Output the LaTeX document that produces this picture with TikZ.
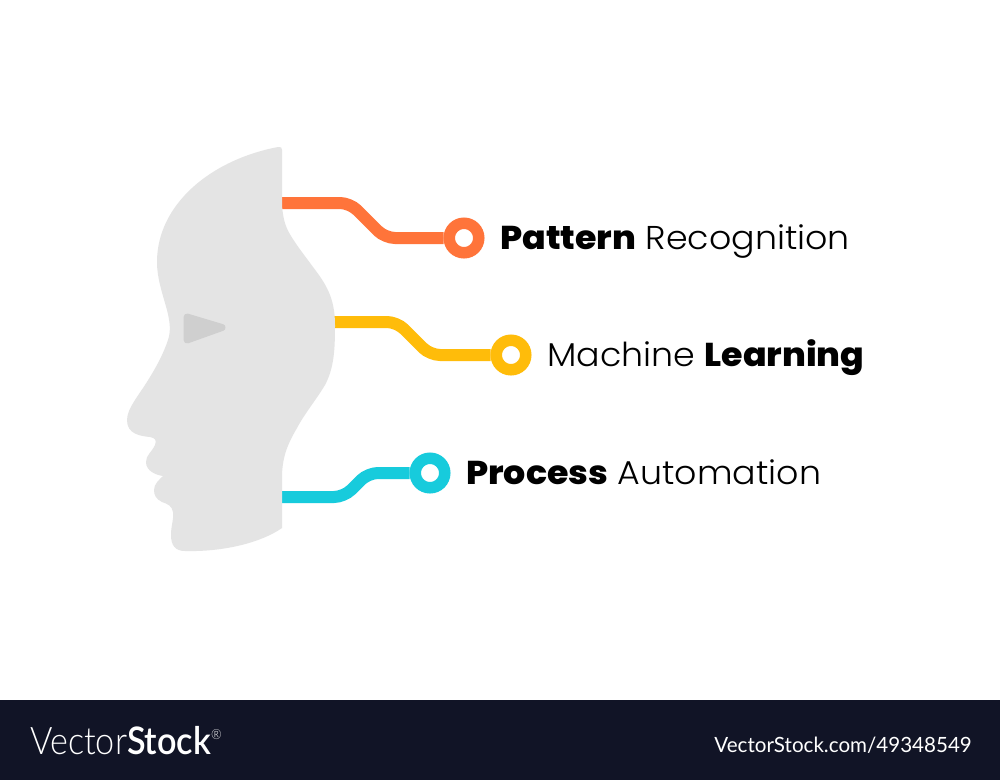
\documentclass[tikz,border=0pt]{standalone}
\usepackage{fontspec}
\setmainfont{Poppins}
\newfontfamily\lab[FakeStretch=1.055,UprightFont={Poppins Light},BoldFont={Poppins ExtraBold}]{Poppins}
\newfontfamily\foot[FakeStretch=0.9,UprightFont={* Light}]{Lato}
\newfontfamily\footb[FakeStretch=0.9]{Lato Semibold}
\newfontfamily\footr[FakeStretch=0.98]{Lato}
\definecolor{headc}{HTML}{E4E4E4}
\definecolor{eyec}{HTML}{CFCFCF}
\definecolor{orangec}{HTML}{FF743A}
\definecolor{yellowc}{HTML}{FFBC0A}
\definecolor{cyanc}{HTML}{17CBDC}
\definecolor{barc}{HTML}{111426}
\tikzset{
  wire/.style={line width=12pt,rounded corners=10pt},
  ringo/.style={circle,draw=#1,line width=11.5pt,fill=white,minimum size=29.5pt,inner sep=0pt},
  labeltext/.style={anchor=base west,inner sep=0pt,font=\lab\fontsize{33}{36}\selectfont,text=black},
  foottext/.style={anchor=base west,inner sep=0pt,text=white}
}
\begin{document}
\begin{tikzpicture}[x=1pt,y=-1pt]
\useasboundingbox (0,0) rectangle (1000,780);
\fill[white] (0,0) rectangle (1000,780);
\fill[barc] (0,700) rectangle (1000,780);
\coordinate (o1) at (282,203);
\coordinate (o2) at (333,322);
\coordinate (o3) at (282,497);
\node[ringo=orangec] (r1) at (464,238) {};
\node[ringo=yellowc] (r2) at (511,355) {};
\node[ringo=cyanc] (r3) at (430,473) {};
\draw[wire,orangec] (o1) -- (350,203) -- (385,238) -- (r1.west);
\draw[wire,yellowc] (o2) -- (397,322) -- (430,355) -- (r2.west);
\draw[wire,cyanc] (o3) -- (344,497) -- (368,473) -- (r3.west);
\fill[headc] (278,147) .. controls (281,146.5) and (282,147.5) .. (282,150)
 -- (282,205) .. controls (283,220) and (286,228) .. (291,236)
 .. controls (297,246) and (305,256) .. (313,267)
 .. controls (326,284) and (335,298) .. (335,325)
 .. controls (335,350) and (334,368) .. (325,385)
 .. controls (316,400) and (305,413) .. (297,428)
 .. controls (287,445) and (282,458) .. (282,478)
 -- (282,528) .. controls (262,542) and (225,552) .. (185,551)
 .. controls (175,551) and (171,545) .. (171,535)
 .. controls (171,525) and (174,520) .. (173,512)
 .. controls (172,506) and (168,504) .. (162,502)
 .. controls (156,499) and (154,495) .. (154,490)
 .. controls (154,484) and (159,480) .. (163,476)
 .. controls (156,475) and (146,471) .. (146,462)
 .. controls (146,455) and (152,452) .. (155,445)
 .. controls (157,440) and (155,438) .. (150,437)
 .. controls (140,436) and (127,434) .. (127,420)
 .. controls (127,408) and (140,394) .. (150,377)
 .. controls (158,364) and (164,352) .. (168,340)
 .. controls (171,331) and (170,322) .. (167,310)
 .. controls (162,292) and (157,278) .. (157,262)
 .. controls (157,205) and (210,160) .. (278,147) -- cycle;
\filldraw[eyec,line width=7pt,line join=round] (187,317) -- (222,327.5) -- (187,340) -- cycle;
\node[labeltext] (t1) at (500,249) {\textbf{Pattern} Recognition};
\node[labeltext] (t2) at (547,366) {Machine \textbf{Learning}};
\node[labeltext] (t3) at (466,484) {\textbf{Process} Automation};
\node[foottext,font=\foot\fontsize{38}{40}\selectfont] (f1) at (30,754) {Vector{\footb Stock}\raisebox{15pt}{\fontsize{14}{14}\selectfont ®}};
\node[foottext,anchor=base east,font=\fontsize{21}{22}\selectfont\footr] (f2) at (972,752) {VectorStock.com/49348549};
\end{tikzpicture}
\end{document}
